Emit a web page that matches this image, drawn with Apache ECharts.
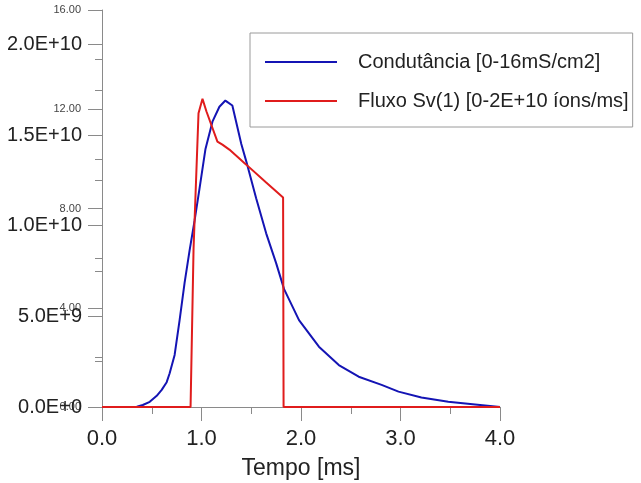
<!DOCTYPE html>
<html><head><meta charset="utf-8">
<script src="https://cdn.jsdelivr.net/npm/echarts@6/dist/echarts.min.js"></script>
<style>html,body{margin:0;padding:0;background:#fff}#c{width:641px;height:483px}</style>
</head><body><div id="c"></div>
<script>
// Conductance (mS/cm2), left small-label axis 0-16
const condTime  = [0, 0.30, 0.35, 0.41, 0.48, 0.55, 0.60, 0.65, 0.68, 0.73, 0.78, 0.83, 0.88, 0.93, 0.98, 1.04, 1.11, 1.18, 1.24, 1.31, 1.40, 1.45, 1.55, 1.65, 1.75, 1.83, 1.98, 2.18, 2.38, 2.58, 2.81, 2.98, 3.21, 3.48, 3.75, 4.0];
const condValue = [0, 0, 0.01, 0.08, 0.21, 0.45, 0.69, 1.0, 1.36, 2.1, 3.5, 5.0, 6.3, 7.5, 8.8, 10.4, 11.5, 12.1, 12.35, 12.15, 10.6, 9.9, 8.4, 7.0, 5.8, 4.75, 3.5, 2.43, 1.69, 1.22, 0.89, 0.62, 0.38, 0.21, 0.10, 0];
// Flux Sv(1) (ions/ms), left large-label axis 0-2E+10
const fluxTime  = [0, 0.89, 0.92, 0.97, 1.01, 1.05, 1.16, 1.21, 1.28, 1.45, 1.65, 1.82, 1.825, 4.0];
const fluxValue = [0, 0, 0.87e10, 1.62e10, 1.70e10, 1.63e10, 1.464e10, 1.447e10, 1.42e10, 1.337e10, 1.238e10, 1.156e10, 0, 0];
const seriesNames = ['Condutância [0-16mS/cm2]', 'Fluxo Sv(1) [0-2E+10 íons/ms]'];
const xTickLabels = ['0.0', '1.0', '2.0', '3.0', '4.0'];

function sci(v){
  if (v === 0) return '0.0E+0';
  const e = Math.floor(Math.log10(v) + 1e-9);
  return (v / Math.pow(10, e)).toFixed(1) + 'E+' + e;
}
const axisCol = '#8a8a8a';
const chart = echarts.init(document.getElementById('c'));
chart.setOption({
  animation: false,
  backgroundColor: '#fff',
  grid: {left: 102, right: 141, top: 10, bottom: 76, containLabel: false, outerBoundsMode: 'none'},
  legend: {
    orient: 'vertical', left: 250, top: 33,
    data: seriesNames,
    icon: 'rect', itemWidth: 72, itemHeight: 2, itemGap: 19,
    borderColor: '#9a9a9a', borderWidth: 1, borderRadius: 0,
    padding: [19, 4, 16, 15],
    textStyle: {fontFamily: 'Liberation Sans', fontSize: 20, color: '#222', padding: [0, 0, 0, 16]}
  },
  xAxis: {
    type: 'value', min: 0, max: 4, interval: 1,
    name: 'Tempo [ms]', nameLocation: 'middle', nameGap: 50,
    nameTextStyle: {fontFamily: 'Liberation Sans', fontSize: 23, color: '#222'},
    axisLine: {lineStyle: {color: axisCol, width: 1}},
    axisTick: {show: true, length: 14, lineStyle: {color: axisCol}},
    minorTick: {show: true, splitNumber: 2, length: 7, lineStyle: {color: axisCol}},
    splitLine: {show: false},
    axisLabel: {fontFamily: 'Liberation Sans', fontSize: 22, color: '#222', margin: 21,
      formatter: v => xTickLabels[Math.round(v)]}
  },
  yAxis: [
    {
      type: 'value', min: 0, max: 16, interval: 4, position: 'left',
      axisLine: {show: true, lineStyle: {color: axisCol}},
      axisTick: {show: true, length: 14, lineStyle: {color: axisCol}},
      minorTick: {show: true, splitNumber: 2, length: 7, lineStyle: {color: axisCol}},
      splitLine: {show: false},
      axisLabel: {fontFamily: 'Liberation Sans', fontSize: 11, color: '#444', margin: 21,
        formatter: v => v.toFixed(2)}
    },
    {
      type: 'value', min: 0, max: 2.19e10, interval: 5e9, position: 'left', offset: 0,
      axisLine: {show: false},
      axisTick: {show: true, length: 14, lineStyle: {color: axisCol}},
      splitLine: {show: false},
      axisLabel: {fontFamily: 'Liberation Sans', fontSize: 20, color: '#222', margin: 20,
        showMaxLabel: false, formatter: v => (v % 5e9 === 0 ? sci(v) : '')}
    },
    {
      type: 'value', min: 0, max: 2.19e10, interval: 2.5e9, position: 'left', offset: 0,
      axisLine: {show: false},
      axisTick: {show: true, length: 7, lineStyle: {color: axisCol}},
      splitLine: {show: false},
      axisLabel: {show: false}
    }
  ],
  series: [
    {
      name: seriesNames[0], type: 'line', yAxisIndex: 0, showSymbol: false, smooth: false,
      color: '#1414b4', lineStyle: {width: 2, color: '#1414b4'},
      data: condTime.map((t, i) => [t, condValue[i]]), z: 2
    },
    {
      name: seriesNames[1], type: 'line', yAxisIndex: 1, showSymbol: false, smooth: false,
      color: '#e01c1c', lineStyle: {width: 2, color: '#e01c1c'},
      data: fluxTime.map((t, i) => [t, fluxValue[i]]), z: 3
    }
  ]
});
</script></body></html>
